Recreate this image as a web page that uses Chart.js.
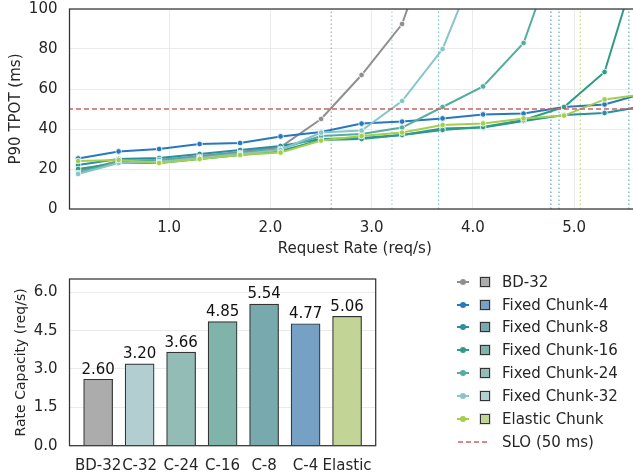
<!DOCTYPE html>
<html>
<head>
<meta charset="utf-8">
<script src="https://cdn.jsdelivr.net/npm/chart.js@4.4.1/dist/chart.umd.min.js"></script>
<style>
    html, body { margin: 0; padding: 0; width: 633px; height: 475px; overflow: hidden; background: #fff; }
    body { position: relative; font-family: 'DejaVu Sans', sans-serif; color: #262626; }
    #rateChart { position: absolute; left: 0; top: 0; }
    #capacityChart { position: absolute; left: 0; top: 262px; }
    #legend { position: absolute; left: 452px; top: 0; width: 181px; height: 475px; font-size: 15px; }
    .item { position: absolute; left: 0; width: 181px; height: 20px; }
    .item .ln { position: absolute; left: 5px; top: 9px; width: 12px; height: 2px; }
    .item .dot { position: absolute; left: 8px; top: 7px; width: 6px; height: 6px; border-radius: 50%; }
    .item .sq { position: absolute; left: 27.5px; top: 5px; width: 10px; height: 10px; box-sizing: border-box; border: 1.2px solid #333; box-shadow: 0 0 0 1px rgba(0,0,0,0.12); }
    .item svg { position: absolute; left: 5px; top: 8px; }
    .item .txt { position: absolute; left: 50px; top: 0; line-height: 20px; white-space: nowrap; }
</style>
</head>
<body>
<canvas id="rateChart" width="645" height="258"></canvas>
<canvas id="capacityChart" width="400" height="213"></canvas>
<div id="legend"></div>
<script>
// Dane

// Oś X górnego wykresu - częstotliwość żądań (req/s)
const requestRates = [0.1, 0.5, 0.9, 1.3, 1.7, 2.1, 2.5, 2.9, 3.3, 3.7, 4.1, 4.5, 4.9, 5.3, 5.7];

// P90 TPOT (ms) dla każdej serii
const bd32 = [19, 24, 24.5, 26.5, 28.5, 31, 45, 67, 92.5, 150];
const fixedChunk4 = [25.3, 28.8, 30, 32.5, 33, 36.3, 38.5, 42.7, 43.7, 45.3, 47.3, 47.7, 51, 52.3, 58];
const fixedChunk8 = [22, 25, 25.5, 27.5, 29.5, 31.5, 35, 35.5, 37, 40.3, 40.7, 44, 47, 48, 51.5];
const fixedChunk16 = [20, 23, 23, 25, 27, 29, 34.5, 35, 37, 39.5, 41, 44.5, 51, 68.5, 135];
const fixedChunk24 = [18, 23.5, 24.5, 26, 28, 30, 36.5, 37.5, 40.7, 51, 61.3, 83, 140];
const fixedChunk32 = [17.5, 23, 23.5, 25.5, 27.5, 29.5, 38.2, 39.2, 54, 80, 130];
const elasticChunk = [24, 24.5, 23, 25, 27, 28.2, 34.2, 36.5, 38.2, 42, 42.8, 45.3, 46.7, 54.8, 57.5];

const seriesNames = ['BD-32', 'Fixed Chunk-4', 'Fixed Chunk-8', 'Fixed Chunk-16', 'Fixed Chunk-24', 'Fixed Chunk-32', 'Elastic Chunk'];
const seriesValues = [bd32, fixedChunk4, fixedChunk8, fixedChunk16, fixedChunk24, fixedChunk32, elasticChunk];
const lineColors = ['#8f8f8f', '#2878be', '#2a8f9e', '#2e9c86', '#55aca0', '#86c5c9', '#a3cf4c'];
const patchColors = ['#acacac', '#77a1c4', '#78a9ad', '#80b3a9', '#94bcb6', '#b3ced1', '#c2d597'];

// Próg SLO (ms)
const sloValue = 50;

// Dolny wykres - pojemność (req/s)
const capacityLabels = ['BD-32', 'C-32', 'C-24', 'C-16', 'C-8', 'C-4', 'Elastic'];
const capacityValues = [2.60, 3.20, 3.66, 4.85, 5.54, 4.77, 5.06];
const capacitySeries = ['BD-32', 'Fixed Chunk-32', 'Fixed Chunk-24', 'Fixed Chunk-16', 'Fixed Chunk-8', 'Fixed Chunk-4', 'Elastic Chunk'];

// Etykiety osi
const rateTicks = [1, 2, 3, 4, 5];
const tpotTicks = [0, 20, 40, 60, 80, 100];
const capacityTicks = [0, 1.5, 3.0, 4.5, 6.0];

Chart.defaults.font.family = "'DejaVu Sans', sans-serif";
Chart.defaults.font.size = 15;
Chart.defaults.color = '#262626';
Chart.defaults.animation = false;

// Ramka wokół obszaru wykresu (jak spines w matplotlib)
const framePlugin = {
    id: 'frame',
    afterDatasetsDraw(chart) {
        const { ctx, chartArea: a } = chart;
        ctx.save();
        ctx.strokeStyle = '#333';
        ctx.lineWidth = 1.25;
        ctx.strokeRect(a.left, a.top, a.right - a.left, a.bottom - a.top);
        ctx.restore();
    }
};

// Wartości nad słupkami
const barValuePlugin = {
    id: 'barValues',
    afterDatasetsDraw(chart) {
        const { ctx } = chart;
        const meta = chart.getDatasetMeta(0);
        ctx.save();
        ctx.font = "15px 'DejaVu Sans', sans-serif";
        ctx.fillStyle = '#111';
        ctx.textAlign = 'center';
        ctx.textBaseline = 'bottom';
        meta.data.forEach((bar, i) => {
            ctx.fillText(capacityValues[i].toFixed(2), bar.x, bar.y - 2);
        });
        ctx.restore();
    }
};

function withAlpha(hex, a) {
    const n = parseInt(hex.slice(1), 16);
    return `rgba(${(n >> 16) & 255},${(n >> 8) & 255},${n & 255},${a})`;
}

// Wymuszenie rozmiaru osi - bez dodatkowego paddingu od etykiet
function fixAxis(size) {
    return (axis) => {
        if (axis.isHorizontal()) axis.height = size; else axis.width = size;
        axis.paddingTop = 0;
        axis.paddingBottom = 0;
        axis.paddingLeft = 0;
        axis.paddingRight = 0;
    };
}

// Górny wykres: TPOT vs częstotliwość żądań
function drawRateChart() {
    const datasets = [];

    // pionowe linie kropkowane w miejscu pojemności
    capacityValues.forEach((cap, i) => {
        const color = lineColors[seriesNames.indexOf(capacitySeries[i])];
        datasets.push({
            data: [{ x: cap, y: tpotTicks[0] }, { x: cap, y: tpotTicks[tpotTicks.length - 1] }],
            borderColor: withAlpha(color, 0.75),
            borderWidth: 1.2,
            borderDash: [1.5, 2.5],
            pointRadius: 0,
            order: 20
        });
    });

    seriesValues.forEach((vals, s) => {
        datasets.push({
            label: seriesNames[s],
            data: vals.map((v, i) => ({ x: requestRates[i], y: v })),
            borderColor: lineColors[s],
            backgroundColor: lineColors[s],
            borderWidth: 2,
            pointRadius: 2.8,
            pointBorderColor: '#fff',
            pointBorderWidth: 0.8,
            pointBackgroundColor: lineColors[s],
            tension: 0,
            order: 10 - s
        });
    });

    datasets.push({
        label: 'SLO (50 ms)',
        data: [{ x: 0, y: sloValue }, { x: 6, y: sloValue }],
        borderColor: '#d0605e',
        borderWidth: 1.5,
        borderDash: [5, 3],
        pointRadius: 0,
        order: 0
    });

    new Chart(document.getElementById('rateChart'), {
        type: 'line',
        data: { datasets },
        options: {
            responsive: false,
            devicePixelRatio: 1,
            layout: { padding: { left: 0, right: 5, top: 9, bottom: 0 } },
            plugins: { legend: { display: false }, tooltip: { enabled: false } },
            scales: {
                x: {
                    type: 'linear',
                    min: 0.015,
                    max: 5.65,
                    afterBuildTicks: (axis) => { axis.ticks = rateTicks.map(v => ({ value: v })); },
                    afterFit: fixAxis(49),
                    ticks: { padding: 10.5, maxRotation: 0, autoSkip: false, callback: (v) => Number(v).toFixed(1) },
                    grid: { color: '#ebebeb', lineWidth: 1, drawTicks: false },
                    border: { display: false },
                    title: { display: true, text: 'Request Rate (req/s)', font: { size: 15 }, padding: { top: 0, bottom: 0 } }
                },
                y: {
                    min: 0,
                    max: 100,
                    afterBuildTicks: (axis) => { axis.ticks = tpotTicks.map(v => ({ value: v })); },
                    afterFit: fixAxis(69.5),
                    ticks: { padding: 12 },
                    grid: { color: '#ebebeb', lineWidth: 1, drawTicks: false },
                    border: { display: false },
                    title: { display: true, text: 'P90 TPOT (ms)', font: { size: 15 }, padding: { top: 7.5, bottom: 0 } }
                }
            }
        },
        plugins: [framePlugin]
    });
}

// Dolny wykres: pojemność (słupki)
function drawCapacityChart() {
    new Chart(document.getElementById('capacityChart'), {
        type: 'bar',
        data: {
            datasets: [{
                data: capacityValues.map((v, i) => ({ x: i, y: v })),
                backgroundColor: capacitySeries.map(n => patchColors[seriesNames.indexOf(n)]),
                borderColor: '#333',
                borderWidth: 1.2,
                barThickness: 29
            }]
        },
        options: {
            responsive: false,
            devicePixelRatio: 1,
            layout: { padding: { left: 0, right: 24.3, top: 17, bottom: 0 } },
            plugins: { legend: { display: false }, tooltip: { enabled: false } },
            scales: {
                x: {
                    type: 'linear',
                    min: -0.69,
                    max: 6.69,
                    offset: false,
                    afterBuildTicks: (axis) => { axis.ticks = capacityLabels.map((_, i) => ({ value: i })); },
                    afterFit: fixAxis(29.3),
                    ticks: { padding: 3, maxRotation: 0, minRotation: 0, autoSkip: false, callback: (v) => capacityLabels[v] },
                    grid: { display: false },
                    border: { display: false }
                },
                y: {
                    min: 0,
                    max: 6.52,
                    afterBuildTicks: (axis) => { axis.ticks = capacityTicks.map(v => ({ value: v })); },
                    afterFit: fixAxis(69.5),
                    ticks: { padding: 12, callback: (v) => Number(v).toFixed(1) },
                    grid: { color: '#ebebeb', lineWidth: 1, drawTicks: false },
                    border: { display: false },
                    title: { display: true, text: 'Rate Capacity (req/s)', font: { size: 14 }, padding: { top: 13.3, bottom: 0 } }
                }
            }
        },
        plugins: [framePlugin, barValuePlugin]
    });
}

// Legenda (HTML)
function buildLegend() {
    const legend = document.getElementById('legend');
    const rowTop = 281.7;
    const rowStep = 22.85;

    seriesNames.forEach((name, i) => {
        const item = document.createElement('div');
        item.className = 'item';
        item.style.top = (rowTop + i * rowStep - 10) + 'px';
        item.innerHTML =
            `<div class="ln" style="background:${lineColors[i]}"></div>` +
            `<div class="dot" style="background:${lineColors[i]}"></div>` +
            `<div class="sq" style="background:${patchColors[i]}"></div>` +
            `<div class="txt">${name}</div>`;
        legend.appendChild(item);
    });

    const slo = document.createElement('div');
    slo.className = 'item';
    slo.style.top = (rowTop + seriesNames.length * rowStep - 10) + 'px';
    slo.innerHTML =
        `<svg width="34" height="4"><line x1="1" y1="2" x2="33" y2="2" stroke="#d0605e" stroke-width="1.6" stroke-dasharray="5 3"/></svg>` +
        `<div class="txt">SLO (${sloValue} ms)</div>`;
    legend.appendChild(slo);
}

document.addEventListener('DOMContentLoaded', () => {
    drawRateChart();
    drawCapacityChart();
    buildLegend();
});
</script>
</body>
</html>
